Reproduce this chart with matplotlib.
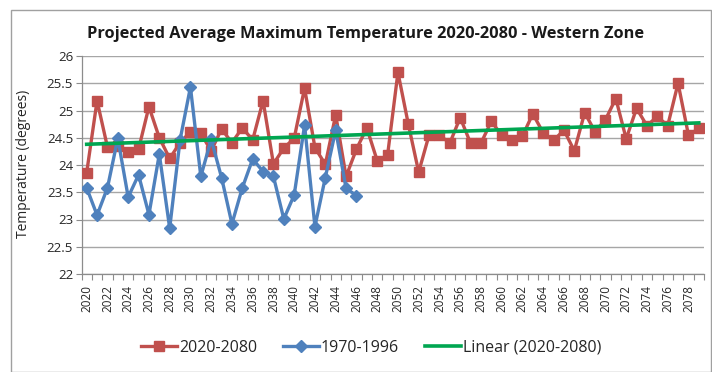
import numpy as np
import matplotlib
matplotlib.use("Agg")
import matplotlib.pyplot as plt
from matplotlib.patches import Rectangle

# Projected annual average maximum temperature, 2020-2079
years = list(range(2020, 2080))
projected = [
    23.86, 25.18, 24.33, 24.35, 24.24, 24.29, 25.07, 24.50, 24.12, 24.41,
    24.61, 24.58, 24.26, 24.66, 24.41, 24.68, 24.46, 25.18, 24.02, 24.31,
    24.49, 25.41, 24.32, 24.01, 24.92, 23.79, 24.29, 24.68, 24.08, 24.18,
    25.70, 24.75, 23.87, 24.55, 24.55, 24.40, 24.87, 24.40, 24.40, 24.80,
    24.55, 24.45, 24.53, 24.94, 24.59, 24.45, 24.64, 24.26, 24.96, 24.61,
    24.83, 25.22, 24.48, 25.04, 24.72, 24.89, 24.72, 25.50, 24.55, 24.67,
]
# Observed baseline 1970-1996, plotted against the same category slots
baseline = [
    23.58, 23.08, 23.58, 24.49, 23.41, 23.82, 23.09, 24.20, 22.84, 24.46,
    25.43, 23.79, 24.47, 23.77, 22.92, 23.58, 24.11, 23.88, 23.79, 23.01,
    23.45, 24.73, 22.87, 23.77, 24.64, 23.57, 23.44,
]
y_ticks = [22, 22.5, 23, 23.5, 24, 24.5, 25, 25.5, 26]
y_tick_labels = ["22", "22.5", "23", "23.5", "24", "24.5", "25", "25.5", "26"]

RED = "#C0504D"
BLUE = "#4F81BD"
GREEN = "#00A651"
TEXT = "#262626"
GRID = "#A6A6A6"

plt.rcParams["font.family"] = ["Open Sans", "DejaVu Sans"]

fig = plt.figure(figsize=(7.12, 3.72), dpi=100)
W, H = 712, 372
ax = fig.add_axes([81.5 / W, 1 - 274 / H, (704 - 81.5) / W, (274 - 56) / H])

x_proj = np.arange(len(projected))
x_base = np.arange(len(baseline))

ax.plot(x_proj, projected, color=RED, lw=2.4, marker="s", ms=7.5,
        mfc=RED, mec=RED, zorder=3, label="2020-2080")
ax.plot(x_base, baseline, color=BLUE, lw=2.4, marker="D", ms=6.3,
        mfc=BLUE, mec=BLUE, zorder=4, label="1970-1996")

# Least-squares linear trend of the projection
slope, intercept = np.polyfit(x_proj, projected, 1)
ax.plot(x_proj, slope * x_proj + intercept, color=GREEN, lw=2.6,
        zorder=5, label="Linear (2020-2080)")

ax.set_xlim(-0.5, len(years) - 0.5)
ax.set_ylim(22, 26)
ax.set_yticks(y_ticks)
ax.set_yticklabels(y_tick_labels)
ax.yaxis.grid(True, color=GRID, lw=1.0)
ax.set_axisbelow(True)

label_idx = x_proj[::2]
ax.set_xticks(label_idx)
ax.set_xticklabels([str(years[i]) for i in label_idx], rotation=90,
                   fontsize=8.5, color=TEXT)
ax.set_xticks(np.arange(-0.5, len(years)), minor=True)
ax.tick_params(axis="x", which="major", length=0, pad=8)
ax.tick_params(axis="x", which="minor", length=4, color="#8C8C8C", width=0.8)
ax.tick_params(axis="y", length=4, color="#8C8C8C", width=0.8,
               labelsize=9.5, labelcolor=TEXT, pad=2)

for side in ("top", "right"):
    ax.spines[side].set_visible(False)
for side in ("left", "bottom"):
    ax.spines[side].set_color("#8C8C8C")
    ax.spines[side].set_linewidth(0.9)

fig.text(24 / W, 1 - 164 / H, "Temperature (degrees)", rotation=90,
         ha="center", va="center", fontsize=10, color=TEXT)

fig.text(366 / W, 1 - 34 / H,
         "Projected Average Maximum Temperature 2020-2080 - Western Zone",
         ha="center", va="center", fontsize=11.8, fontweight="bold",
         color="#1a1a1a")

fig.legend(loc="center", bbox_to_anchor=(371 / W, 1 - 348 / H), ncol=3,
           frameon=False, fontsize=11.5, handlelength=2.3, handletextpad=0.1,
           columnspacing=1.6, labelcolor=TEXT)

fig.patches.append(Rectangle((10.5 / W, 0.5 / H), (710.5 - 10.5) / W,
                             (362.5 - 0.5) / H, transform=fig.transFigure,
                             fill=False, edgecolor="#A0A0A0", lw=1.0))

fig.savefig("out.png", dpi=100)
